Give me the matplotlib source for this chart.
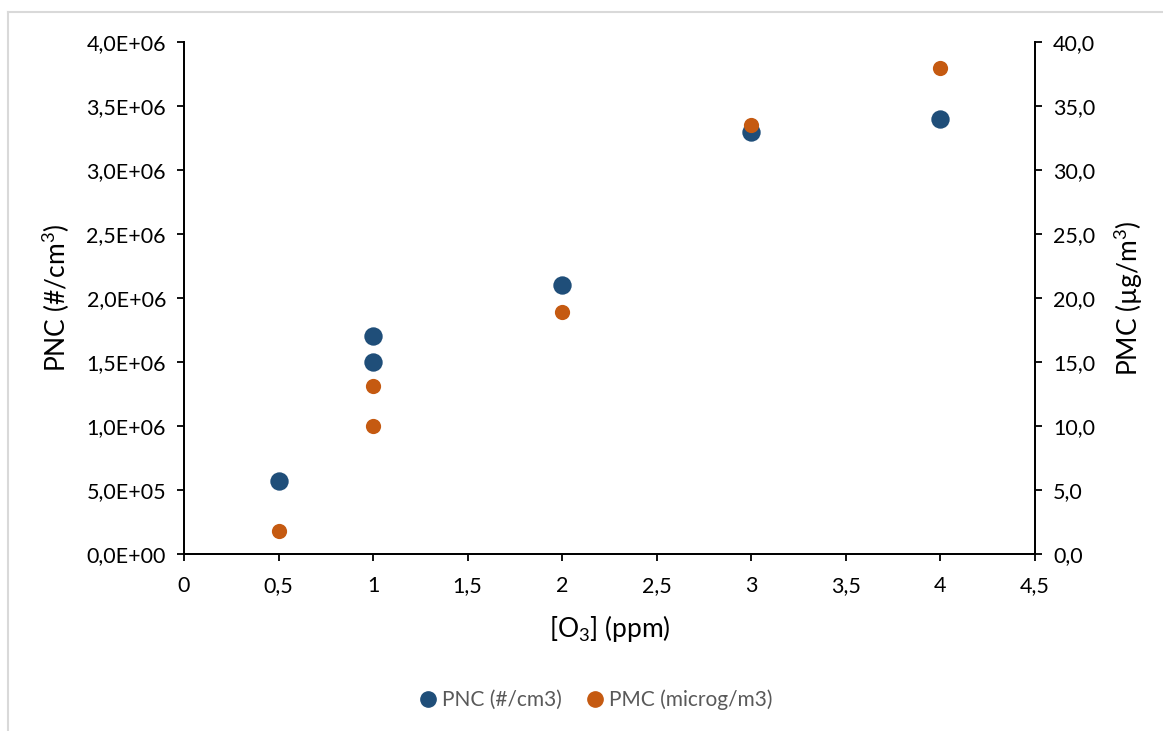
import matplotlib
matplotlib.use("Agg")
import matplotlib.pyplot as plt
from matplotlib.ticker import FuncFormatter, MultipleLocator
from matplotlib.lines import Line2D

plt.rcParams['font.family'] = ['Lato', 'DejaVu Sans']
plt.rcParams['mathtext.default'] = 'regular'

# ozone concentration (ppm)
o3 = [0.5, 1, 1, 2, 3, 4]
# particle number concentration (#/cm3)
pnc = [5.7e5, 1.5e6, 1.7e6, 2.1e6, 3.3e6, 3.4e6]
# particle mass concentration (microg/m3)
pmc = [1.8, 10.0, 13.1, 18.9, 33.5, 38.0]

blue = '#1F4E79'
orange = '#C55A11'

fig = plt.figure(figsize=(11.63, 7.31), dpi=100)
ax = fig.add_axes([184 / 1163, 1 - 554 / 731, (1035 - 184) / 1163, (554 - 42) / 731])
ax2 = ax.twinx()

ax.scatter(o3, pnc, s=175, color=blue, zorder=3, linewidths=0, clip_on=False)
ax2.scatter(o3, pmc, s=120, color=orange, zorder=3, linewidths=0, clip_on=False)

ax.set_xlim(0, 4.5)
ax.set_ylim(0, 4.0e6)
ax2.set_ylim(0, 40)
ax.xaxis.set_major_locator(MultipleLocator(0.5))
ax.yaxis.set_major_locator(MultipleLocator(0.5e6))
ax2.yaxis.set_major_locator(MultipleLocator(5))

ax.xaxis.set_major_formatter(FuncFormatter(lambda v, p: f"{v:g}".replace('.', ',')))
ax.yaxis.set_major_formatter(FuncFormatter(lambda v, p: f"{v:.1E}".replace('.', ',')))
ax2.yaxis.set_major_formatter(FuncFormatter(lambda v, p: f"{v:.1f}".replace('.', ',')))

for a in (ax, ax2):
    a.spines['top'].set_visible(False)
    for s in a.spines.values():
        s.set_linewidth(1.3)
        s.set_color('black')
    a.tick_params(axis='both', direction='out', length=5, width=1.3, labelsize=15.5, pad=8, colors='black')
ax.tick_params(axis='x', pad=11)

ax.set_xlabel('[O$_3$] (ppm)', fontsize=19, labelpad=12)
ax.set_ylabel('PNC (#/cm$^3$)', fontsize=19, labelpad=10)
ax2.set_ylabel('PMC (µg/m$^3$)', fontsize=19, labelpad=12)

handles = [
    Line2D([], [], marker='o', linestyle='none', markersize=11, color=blue, label='PNC (#/cm3)'),
    Line2D([], [], marker='o', linestyle='none', markersize=11, color=orange, label='PMC (microg/m3)'),
]
leg = fig.legend(handles=handles, loc='center', bbox_to_anchor=(594 / 1163, 1 - 700 / 731),
                 ncol=2, frameon=False, fontsize=15, handletextpad=0.05, columnspacing=1.0,
                 handlelength=1.2)
for t in leg.get_texts():
    t.set_color('#595959')

# outer chart frame (top and left edges)
fig.add_artist(Line2D([7.5 / 1163, 7.5 / 1163], [0, 1 - 11.5 / 731], color='#d9d9d9', lw=1.5))
fig.add_artist(Line2D([7.5 / 1163, 1], [1 - 11.5 / 731, 1 - 11.5 / 731], color='#d9d9d9', lw=1.5))

fig.savefig('out.png', dpi=100)
